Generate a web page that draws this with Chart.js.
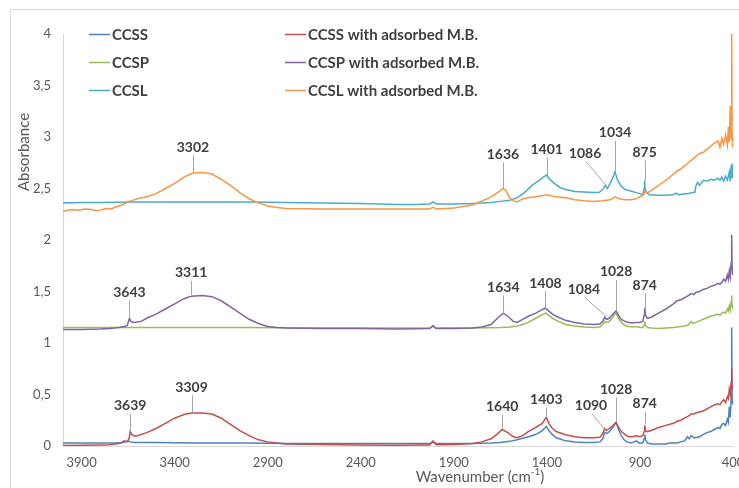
<!DOCTYPE html>
<html>
<head>
<meta charset="utf-8">
<script src="https://cdn.jsdelivr.net/npm/chart.js@4.4.0/dist/chart.umd.min.js"></script>
<style>
  html, body { margin: 0; padding: 0; background: #fff; }
</style>
</head>
<body>
<canvas id="ftir" width="739" height="488"></canvas>
<script>
// FTIR spectra: [wavenumber cm-1, absorbance]
const ccss = [[4000,0.03],[3900,0.03],[3800,0.03],[3720,0.03],[3680,0.035],[3660,0.04],[3645,0.045],[3635,0.04],[3620,0.035],[3500,0.035],
  [3300,0.03],[3000,0.03],[2800,0.025],[2500,0.025],[2200,0.025],[2030,0.025],[2012,0.035],[1995,0.025],[1800,0.025],[1700,0.03],
  [1650,0.035],[1600,0.045],[1560,0.06],[1520,0.08],[1480,0.10],[1450,0.12],[1425,0.15],[1403,0.19],[1390,0.15],[1370,0.11],
  [1350,0.08],[1300,0.05],[1250,0.04],[1200,0.035],[1150,0.035],[1115,0.04],[1100,0.07],[1090,0.13],[1080,0.12],[1065,0.14],
  [1050,0.17],[1035,0.21],[1028,0.23],[1015,0.16],[1000,0.10],[985,0.06],[970,0.04],[950,0.03],[930,0.04],[920,0.05],
  [905,0.03],[885,0.03],[877,0.07],[874,0.11],[870,0.06],[860,0.03],[840,0.02],[800,0.02],[760,0.02],[740,0.03],
  [720,0.03],[700,0.03],[680,0.04],[660,0.05],[645,0.09],[635,0.07],[625,0.10],[610,0.08],[600,0.08],[580,0.09],
  [560,0.11],[540,0.13],[520,0.14],[500,0.16],[480,0.18],[470,0.17],[460,0.21],[450,0.22],[440,0.20],[430,0.26],
  [425,0.23],[420,0.38],[415,0.28],[410,0.45],[407,1.15],[405,0.50],[403,0.42],[400,0.40]];

const ccssMB = [[4000,0.005],[3900,0.008],[3800,0.01],[3750,0.012],[3720,0.02],[3690,0.03],[3670,0.05],[3655,0.045],[3645,0.07],[3639,0.14],
  [3630,0.11],[3615,0.095],[3600,0.10],[3550,0.13],[3500,0.17],[3450,0.22],[3400,0.27],[3350,0.305],[3309,0.32],[3250,0.32],
  [3200,0.31],[3150,0.27],[3100,0.21],[3050,0.15],[3000,0.10],[2950,0.06],[2900,0.04],[2850,0.03],[2800,0.02],[2600,0.015],
  [2400,0.01],[2200,0.008],[2100,0.01],[2030,0.01],[2012,0.05],[1995,0.012],[1900,0.015],[1800,0.025],[1750,0.04],[1700,0.07],
  [1670,0.11],[1640,0.16],[1610,0.13],[1580,0.09],[1560,0.08],[1530,0.10],[1500,0.14],[1460,0.18],[1425,0.22],[1403,0.28],
  [1390,0.22],[1370,0.17],[1350,0.14],[1300,0.11],[1250,0.09],[1200,0.08],[1150,0.08],[1115,0.085],[1100,0.12],[1090,0.17],
  [1080,0.15],[1065,0.17],[1050,0.19],[1035,0.22],[1028,0.23],[1015,0.18],[1000,0.14],[980,0.11],[960,0.09],[940,0.09],
  [920,0.10],[900,0.09],[885,0.10],[877,0.14],[874,0.20],[870,0.15],[860,0.14],[840,0.15],[800,0.18],[760,0.20],
  [720,0.22],[700,0.24],[680,0.25],[660,0.27],[640,0.29],[625,0.31],[610,0.31],[600,0.32],[580,0.33],[560,0.34],
  [540,0.36],[520,0.38],[500,0.40],[480,0.41],[470,0.40],[460,0.43],[450,0.45],[440,0.42],[430,0.48],[425,0.46],
  [420,0.55],[415,0.50],[410,0.62],[407,0.75],[405,0.58],[403,0.56],[400,0.55]];

const ccsp = [[4000,1.15],[3900,1.15],[3800,1.15],[3700,1.15],[3600,1.15],[3400,1.15],[3200,1.15],[3000,1.15],[2800,1.148],[2600,1.145],
  [2400,1.145],[2200,1.145],[2030,1.145],[2012,1.16],[1995,1.145],[1800,1.145],[1720,1.147],[1650,1.15],[1600,1.155],[1560,1.165],
  [1530,1.18],[1500,1.20],[1460,1.24],[1430,1.27],[1408,1.29],[1390,1.27],[1370,1.24],[1350,1.22],[1300,1.18],[1250,1.165],
  [1200,1.155],[1150,1.15],[1115,1.155],[1100,1.18],[1090,1.21],[1080,1.20],[1065,1.21],[1050,1.24],[1035,1.28],[1028,1.29],
  [1015,1.24],[1000,1.20],[980,1.17],[960,1.16],[940,1.155],[920,1.16],[900,1.15],[885,1.15],[877,1.17],[874,1.21],
  [870,1.17],[860,1.15],[840,1.145],[800,1.14],[760,1.145],[720,1.15],[700,1.155],[680,1.16],[660,1.165],[640,1.175],
  [625,1.21],[615,1.19],[600,1.20],[580,1.215],[560,1.23],[540,1.245],[520,1.26],[500,1.27],[480,1.28],[470,1.27],
  [460,1.29],[450,1.30],[440,1.29],[430,1.33],[425,1.31],[420,1.36],[415,1.32],[410,1.40],[407,1.46],[405,1.36],
  [403,1.35],[400,1.34]];

const ccspMB = [[4000,1.13],[3900,1.13],[3800,1.135],[3750,1.14],[3700,1.15],[3670,1.16],[3655,1.17],[3643,1.24],[3635,1.21],[3620,1.20],
  [3580,1.21],[3550,1.24],[3500,1.28],[3450,1.33],[3400,1.38],[3350,1.43],[3311,1.455],[3250,1.46],[3200,1.45],[3150,1.41],
  [3100,1.35],[3050,1.29],[3000,1.23],[2950,1.19],[2900,1.16],[2850,1.15],[2800,1.145],[2600,1.14],[2400,1.14],[2200,1.135],
  [2030,1.14],[2012,1.17],[1995,1.14],[1900,1.14],[1800,1.145],[1750,1.155],[1700,1.18],[1660,1.25],[1634,1.29],[1610,1.26],
  [1580,1.21],[1560,1.20],[1530,1.23],[1500,1.26],[1460,1.29],[1430,1.32],[1408,1.34],[1390,1.31],[1370,1.28],[1350,1.26],
  [1300,1.22],[1250,1.20],[1200,1.185],[1150,1.18],[1115,1.185],[1100,1.21],[1090,1.25],[1080,1.23],[1065,1.24],[1050,1.27],
  [1035,1.30],[1028,1.31],[1015,1.27],[1000,1.23],[980,1.21],[960,1.20],[940,1.195],[920,1.20],[900,1.20],[885,1.21],
  [877,1.27],[874,1.34],[870,1.27],[860,1.24],[840,1.25],[800,1.29],[760,1.33],[720,1.38],[700,1.41],[680,1.42],
  [660,1.44],[640,1.46],[625,1.48],[610,1.47],[600,1.49],[580,1.50],[560,1.52],[540,1.53],[520,1.55],[500,1.56],
  [480,1.58],[470,1.57],[460,1.59],[450,1.62],[440,1.60],[430,1.66],[425,1.62],[420,1.70],[415,1.64],[410,1.78],
  [407,2.05],[405,1.75],[403,1.68],[400,1.66]];

const ccsl = [[4000,2.36],[3900,2.365],[3800,2.365],[3600,2.37],[3400,2.37],[3200,2.37],[3000,2.37],[2800,2.365],[2600,2.36],[2400,2.355],
  [2300,2.35],[2200,2.345],[2100,2.345],[2030,2.35],[2012,2.37],[1995,2.35],[1900,2.35],[1800,2.355],[1700,2.365],[1650,2.375],
  [1600,2.385],[1560,2.41],[1520,2.46],[1480,2.53],[1440,2.58],[1420,2.61],[1401,2.63],[1390,2.60],[1360,2.55],[1330,2.51],
  [1300,2.49],[1250,2.47],[1200,2.465],[1150,2.46],[1120,2.46],[1100,2.49],[1086,2.53],[1075,2.50],[1060,2.55],[1045,2.61],
  [1034,2.66],[1020,2.58],[1000,2.52],[980,2.49],[960,2.48],[940,2.47],[920,2.46],[900,2.45],[885,2.44],[877,2.50],
  [875,2.58],[872,2.50],[865,2.46],[850,2.44],[800,2.435],[760,2.435],[720,2.44],[705,2.455],[690,2.44],[660,2.45],
  [640,2.45],[620,2.46],[605,2.46],[600,2.52],[590,2.56],[580,2.53],[560,2.58],[540,2.57],[520,2.59],[500,2.58],
  [480,2.60],[470,2.58],[460,2.61],[450,2.57],[440,2.62],[430,2.58],[420,2.66],[415,2.57],[410,2.72],[407,2.60],
  [405,2.74],[403,2.62],[400,2.60]];

const ccslMB = [[4000,2.28],[3950,2.295],[3920,2.29],[3880,2.30],[3850,2.295],[3820,2.285],[3800,2.29],[3780,2.30],[3760,2.305],[3740,2.30],
  [3720,2.32],[3700,2.33],[3680,2.345],[3650,2.37],[3600,2.40],[3550,2.42],[3500,2.45],[3450,2.50],[3400,2.55],[3350,2.61],
  [3302,2.65],[3250,2.655],[3200,2.64],[3150,2.59],[3100,2.53],[3050,2.46],[3000,2.40],[2950,2.36],[2900,2.33],[2850,2.315],
  [2800,2.305],[2600,2.30],[2400,2.30],[2300,2.30],[2200,2.30],[2100,2.30],[2030,2.30],[2012,2.32],[1995,2.30],[1900,2.31],
  [1850,2.325],[1800,2.34],[1760,2.37],[1720,2.40],[1680,2.44],[1650,2.48],[1636,2.50],[1620,2.48],[1600,2.41],[1580,2.38],
  [1560,2.37],[1530,2.40],[1500,2.41],[1460,2.42],[1430,2.43],[1401,2.44],[1380,2.43],[1350,2.42],[1300,2.41],[1250,2.39],
  [1200,2.38],[1150,2.375],[1100,2.38],[1060,2.39],[1034,2.42],[1010,2.40],[980,2.39],[950,2.39],[920,2.40],[900,2.42],
  [880,2.44],[875,2.47],[860,2.46],[840,2.48],[800,2.53],[760,2.58],[720,2.64],[700,2.67],[680,2.69],[660,2.72],
  [640,2.75],[620,2.78],[600,2.81],[580,2.84],[560,2.85],[540,2.88],[520,2.91],[500,2.94],[480,2.96],[470,2.90],
  [460,2.99],[450,2.93],[440,3.02],[430,2.92],[425,3.10],[420,2.95],[415,3.30],[410,2.98],[407,4.0],[405,3.05],
  [403,2.92],[400,2.90]];

const seriesNames = ['CCSS', 'CCSS with adsorbed M.B.', 'CCSP', 'CCSP with adsorbed M.B.', 'CCSL', 'CCSL with adsorbed M.B.'];
const seriesData = [ccss, ccssMB, ccsp, ccspMB, ccsl, ccslMB];
const seriesColors = ['#4f81bd', '#c0504d', '#9bbb59', '#8064a2', '#4bacc6', '#f79646'];

const xTicks = [3900, 3400, 2900, 2400, 1900, 1400, 900, 400];
const yTicks = [0, 0.5, 1, 1.5, 2, 2.5, 3, 3.5, 4];

// peak labels: text, peak (wavenumber, absorbance), label centre (wavenumber, absorbance)
const peakText = ['3302', '1636', '1401', '1086', '1034', '875',
  '3643', '3311', '1634', '1408', '1084', '1028', '874',
  '3639', '3309', '1640', '1403', '1090', '1028', '874'];
const peakWn = [3302, 1636, 1401, 1082, 1034, 875,
  3643, 3311, 1634, 1408, 1077, 1028, 874,
  3639, 3309, 1640, 1403, 1088, 1028, 874];
const peakAbs = [2.66, 2.50, 2.63, 2.53, 2.66, 2.58,
  1.24, 1.47, 1.30, 1.34, 1.25, 1.32, 1.34,
  0.14, 0.32, 0.16, 0.28, 0.16, 0.23, 0.21];
const labelWn = [3302, 1636, 1401, 1195, 1034, 875,
  3643, 3311, 1634, 1408, 1201, 1028, 874,
  3639, 3309, 1640, 1403, 1163, 1028, 874];
const labelAbs = [2.90, 2.83, 2.88, 2.84, 3.04, 2.85,
  1.49, 1.68, 1.54, 1.58, 1.52, 1.69, 1.56,
  0.39, 0.57, 0.38, 0.45, 0.39, 0.55, 0.41];

const FONT = 'Lato, "Open Sans", sans-serif';
const TEXT_DARK = '#404040';
const TEXT_GREY = '#595959';

// Excel-style frame, peak labels, two-column legend and axis titles
const ftirDecor = {
  id: 'ftirDecor',
  beforeDraw(chart) {
    const ctx = chart.ctx;
    ctx.save();
    ctx.fillStyle = '#fff';
    ctx.fillRect(0, 0, chart.width, chart.height);
    ctx.strokeStyle = '#d9d9d9';
    ctx.lineWidth = 1;
    ctx.strokeRect(10.5, 9.5, chart.width, chart.height);
    ctx.restore();
  },
  afterDatasetsDraw(chart) {
    const ctx = chart.ctx;
    const x = chart.scales.x;
    const y = chart.scales.y;
    ctx.save();

    // peak labels with leader lines
    ctx.font = 'bold 14px ' + FONT;
    ctx.textAlign = 'center';
    ctx.textBaseline = 'middle';
    peakText.forEach((t, i) => {
      const lx = x.getPixelForValue(labelWn[i]);
      const ly = y.getPixelForValue(labelAbs[i]);
      const px = x.getPixelForValue(peakWn[i]);
      const py = y.getPixelForValue(peakAbs[i]);
      const straight = labelWn[i] === peakWn[i];
      ctx.strokeStyle = '#a6a6a6';
      ctx.lineWidth = 1;
      ctx.beginPath();
      if (straight) {
        const cx = Math.round(px) + 0.5;
        ctx.moveTo(cx, ly + 8);
        ctx.lineTo(cx, py);
      } else {
        ctx.moveTo(lx + 1, ly + 8);
        ctx.lineTo(px, py);
      }
      ctx.stroke();
      ctx.fillStyle = TEXT_DARK;
      ctx.fillText(t, lx, ly);
    });

    // legend: two columns, three rows
    const colX = [89, 285];
    const rowY = [34, 62, 90];
    ctx.textAlign = 'left';
    ctx.font = 'bold 15px ' + FONT;
    seriesNames.forEach((name, i) => {
      const cx = colX[i % 2];
      const cy = rowY[Math.floor(i / 2)];
      ctx.strokeStyle = seriesColors[i];
      ctx.lineWidth = 1.5;
      ctx.beginPath();
      ctx.moveTo(cx, cy + 0.5);
      ctx.lineTo(cx + 21, cy + 0.5);
      ctx.stroke();
      ctx.fillStyle = TEXT_DARK;
      ctx.fillText(name, cx + 23, cy + 1);
    });

    // y title
    ctx.fillStyle = TEXT_GREY;
    ctx.font = '15px ' + FONT;
    ctx.save();
    ctx.translate(24, 152);
    ctx.rotate(-Math.PI / 2);
    ctx.textAlign = 'center';
    ctx.fillText('Absorbance', 0, 0);
    ctx.restore();

    // x title with superscript
    const main1 = 'Wavenumber (cm';
    const sup = '-1';
    const main2 = ')';
    ctx.font = '15px ' + FONT;
    const w1 = ctx.measureText(main1).width;
    const w3 = ctx.measureText(main2).width;
    ctx.font = '10px ' + FONT;
    const w2 = ctx.measureText(sup).width;
    let sx = 480 - (w1 + w2 + w3) / 2;
    ctx.textAlign = 'left';
    ctx.font = '15px ' + FONT;
    ctx.fillText(main1, sx, 477);
    sx += w1;
    ctx.font = '10px ' + FONT;
    ctx.fillText(sup, sx, 472);
    sx += w2;
    ctx.font = '15px ' + FONT;
    ctx.fillText(main2, sx, 477);

    ctx.restore();
  }
};

const datasets = seriesData.map((pts, i) => ({
  label: seriesNames[i],
  data: pts.map(p => ({ x: p[0], y: p[1] })),
  borderColor: seriesColors[i],
  backgroundColor: seriesColors[i],
  borderWidth: 1.5,
  pointRadius: 0,
  tension: 0,
  order: 6 - i
}));

new Chart(document.getElementById('ftir'), {
  type: 'line',
  data: { datasets },
  options: {
    responsive: false,
    animation: false,
    devicePixelRatio: 1,
    layout: { padding: { top: 34, right: 6, left: 0, bottom: 0 } },
    plugins: {
      legend: { display: false },
      tooltip: { enabled: false }
    },
    scales: {
      x: {
        type: 'linear',
        reverse: true,
        min: 400,
        max: 4000,
        afterBuildTicks: s => { s.ticks = xTicks.map(v => ({ value: v })); },
        afterFit: s => { s.height = 42; s.paddingLeft = 0; s.paddingRight = 0; },
        ticks: {
          color: TEXT_GREY,
          font: { family: FONT, size: 13 },
          padding: 9,
          maxRotation: 0,
          autoSkip: false,
          callback: v => String(v)
        },
        grid: { display: false, drawTicks: false },
        border: { display: true, color: '#d9d9d9', width: 1 }
      },
      y: {
        min: 0,
        max: 4,
        afterBuildTicks: s => { s.ticks = yTicks.map(v => ({ value: v })); },
        afterFit: s => { s.width = 63; },
        ticks: {
          color: TEXT_GREY,
          font: { family: FONT, size: 13 },
          padding: 12,
          callback: v => String(v).replace('.', ',')
        },
        grid: { display: false, drawTicks: false },
        border: { display: true, color: '#d9d9d9', width: 1 }
      }
    }
  },
  plugins: [ftirDecor]
});
</script>
</body>
</html>
